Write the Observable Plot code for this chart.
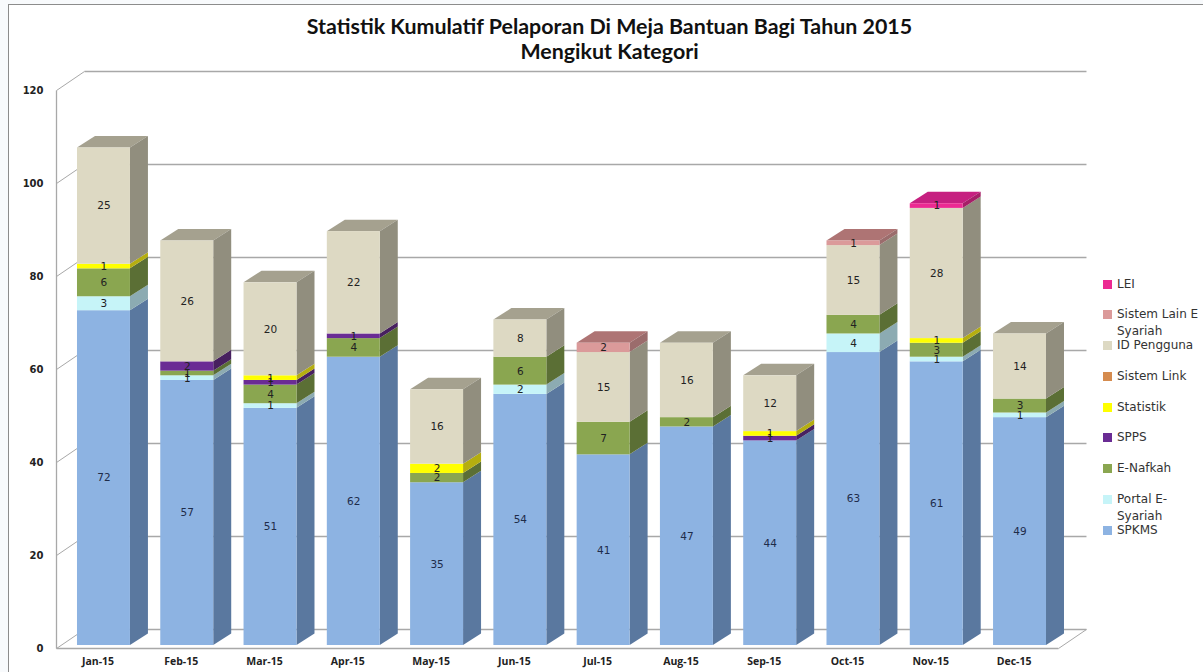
<!DOCTYPE html>
<html>
<head>
<meta charset="utf-8">
<script src="https://cdn.jsdelivr.net/npm/d3@7"></script>
<script src="https://cdn.jsdelivr.net/npm/@observablehq/plot@0.6"></script>
<style>
html,body{margin:0;padding:0;background:#f8fafc;overflow:hidden;width:1203px;height:672px}
#page{position:absolute;left:8px;top:4px;width:1195px;height:668px;background:#fff;border-left:1.5px solid #8c8c8c;border-top:1.5px solid #8c8c8c;box-sizing:border-box}
#title{position:absolute;left:8px;top:14px;width:1203px;text-align:center;font:700 21.4px/25px Lato,sans-serif;color:#111}
#chart{position:absolute;left:0;top:66px}
#legend{position:absolute;left:1103px;top:275.5px;font:12px/17px "DejaVu Sans",sans-serif;color:#333}
.item{height:30.8px;display:flex;align-items:flex-start}
.sw{width:9px;height:9px;margin-top:4px;margin-right:5px;flex:none}
.lb{width:85px}
</style>
</head>
<body>
<div id="page"></div>
<div id="title">Statistik Kumulatif Pelaporan Di Meja Bantuan Bagi Tahun 2015<br>Mengikut Kategori</div>
<div id="chart"></div>
<div id="legend"></div>
<script>
const months = ["Jan-15","Feb-15","Mar-15","Apr-15","May-15","Jun-15","Jul-15","Aug-15","Sep-15","Oct-15","Nov-15","Dec-15"];
const seriesNames = ["SPKMS","Portal E-Syariah","E-Nafkah","SPPS","Statistik","Sistem Link","ID Pengguna","Sistem Lain E Syariah","LEI"];
const spkms      = [72,57,51,62,35,54,41,47,44,63,61,49];
const portal     = [ 3, 1, 1, 0, 0, 2, 0, 0, 0, 4, 1, 1];
const eNafkah    = [ 6, 1, 4, 4, 2, 6, 7, 2, 0, 4, 3, 3];
const spps       = [ 0, 2, 1, 1, 0, 0, 0, 0, 1, 0, 0, 0];
const statistik  = [ 1, 0, 1, 0, 2, 0, 0, 0, 1, 0, 1, 0];
const sistemLink = [ 0, 0, 0, 0, 0, 0, 0, 0, 0, 0, 0, 0];
const idPengguna = [25,26,20,22,16, 8,15,16,12,15,28,14];
const sistemLain = [ 0, 0, 0, 0, 0, 0, 2, 0, 0, 1, 0, 0];
const lei        = [ 0, 0, 0, 0, 0, 0, 0, 0, 0, 0, 1, 0];
const seriesValues = [spkms,portal,eNafkah,spps,statistik,sistemLink,idPengguna,sistemLain,lei];
const yTicks = [0,20,40,60,80,100,120];

const frontColors = ["#8DB3E2","#C6F4F8","#8AA650","#6A2C94","#FFFF00","#D58B4E","#DDD9C3","#DB9A9A","#EC2A92"];
const sideColors  = ["#5A789F","#8CABB2","#5B6F35","#47205F","#B5AE10","#96613A","#918E7E","#9B6C6C","#A61F68"];
const topColors   = ["#6C8BB2","#9CBABF","#6C8240","#552A70","#C5C015","#A8704A","#A5A18F","#AE7474","#C62080"];

// Projection of the depth axis, in scale units (category widths / value units)
const barW = 0.636, barDX = 0.216, barDY = 2.47;
const wallDX = 0.336, wallDY = 4.09, floorOff = -0.65;
const xL = -0.252, xR = 11.78;

const segments = [];
months.forEach((m,i)=>{
  let base = 0;
  seriesValues.forEach((vals,s)=>{
    const v = vals[i];
    if (v > 0) { segments.push({month:m,i,s,series:seriesNames[s],v,y0:base,y1:base+v}); base += v; }
  });
  segments.filter(d=>d.i===i).at(-1).last = true;
});

const sideFaces = s => segments.filter(d=>d.s===s).flatMap(d=>[
  {id:d.month,x:d.i+barW,y1:d.y0,y2:d.y1},
  {id:d.month,x:d.i+barW+barDX,y1:d.y0+barDY,y2:d.y1+barDY}
]);
const topFaces = s => segments.filter(d=>d.s===s&&d.last).flatMap(d=>[
  {id:d.month,y:d.y1,x1:d.i,x2:d.i+barW},
  {id:d.month,y:d.y1+barDY,x1:d.i+barDX,x2:d.i+barW+barDX}
]);

const gridColor = "#a8a8a8";
const marks = [
  // back wall lines, left wall diagonals, floor
  Plot.link(yTicks,{x1:xL+wallDX,x2:xR+wallDX,y1:d=>d+floorOff+wallDY,y2:d=>d+floorOff+wallDY,stroke:gridColor,strokeWidth:1.3}),
  Plot.link(yTicks,{x1:xL,x2:xL+wallDX,y1:d=>d+floorOff,y2:d=>d+floorOff+wallDY,stroke:gridColor,strokeWidth:1}),
  Plot.link([0],{x1:xR,x2:xR+wallDX,y1:d=>d+floorOff,y2:d=>d+floorOff+wallDY,stroke:gridColor,strokeWidth:1}),
  Plot.link([0],{x1:xL,x2:xR,y1:d=>d+floorOff,y2:d=>d+floorOff,stroke:gridColor,strokeWidth:1.3}),
  Plot.link([120],{x1:xL,x2:xL,y1:floorOff,y2:d=>d+floorOff,stroke:gridColor,strokeWidth:1.3}),
  ...seriesNames.flatMap((_,s)=>[
    Plot.areaX(topFaces(s),{x1:"x1",x2:"x2",y:"y",z:"id",fill:topColors[s]}),
    Plot.areaY(sideFaces(s),{x:"x",y1:"y1",y2:"y2",z:"id",fill:sideColors[s]})
  ]),
  Plot.rect(segments,{x1:"i",x2:d=>d.i+barW,y1:"y0",y2:"y1",fill:"series"}),
  Plot.text(segments,{x:d=>d.i+barW/2,y:d=>(d.y0+d.y1)/2,text:"v",fontSize:10.5,fill:d=>d.s===0?"#1e2c4a":"#222",fontFamily:"DejaVu Sans"}),
  Plot.axisY({ticks:yTicks,tickSize:0,tickPadding:13,dy:3,label:null,fontFamily:"DejaVu Sans",fontSize:10,fontWeight:700,fill:"#222"}),
  Plot.axisX({ticks:months.map((_,i)=>i+barW/2),tickFormat:(d)=>months[Math.round(d-barW/2)],tickSize:0,tickPadding:9,dx:-6,label:null,fontFamily:"Open Sans",fontSize:10.5,fontWeight:700,fill:"#222"})
];

const plot = Plot.plot({
  width:1203,height:606,
  marginLeft:56,marginRight:145,marginTop:0,marginBottom:24,
  x:{type:"linear",domain:[xL,xR],range:[56,1058]},
  y:{type:"linear",domain:[0,120],range:[579,21]},
  color:{type:"ordinal",domain:seriesNames,range:frontColors},
  style:{background:"transparent",overflow:"visible"},
  marks
});
document.getElementById("chart").append(plot);

const legend = document.getElementById("legend");
seriesNames.map((n,s)=>[n,s]).reverse().forEach(([n,s])=>{
  const item = document.createElement("div"); item.className="item";
  const sw = document.createElement("div"); sw.className="sw"; sw.style.background=frontColors[s];
  const lb = document.createElement("div"); lb.className="lb"; lb.textContent=n;
  item.append(sw,lb); legend.append(item);
});
</script>
</body>
</html>
